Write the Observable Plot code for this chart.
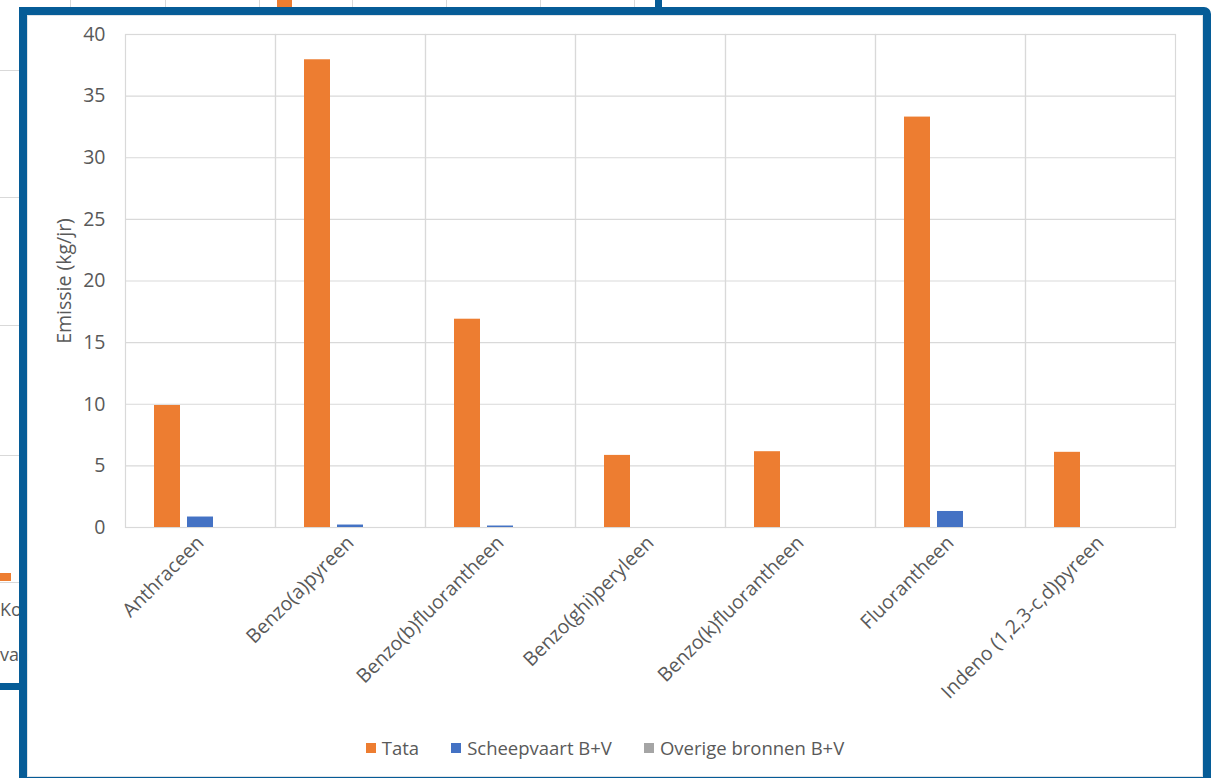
<!DOCTYPE html>
<html>
<head>
<meta charset="utf-8">
<script src="https://cdn.jsdelivr.net/npm/d3@7"></script>
<script src="https://cdn.jsdelivr.net/npm/@observablehq/plot@0.6"></script>
<style>
  html, body { margin: 0; padding: 0; background: #ffffff; width: 1212px; height: 778px; overflow: hidden; position: relative; }
  #chart { position: absolute; left: 0; top: 0; }
  #frame {
    position: absolute; left: 19px; top: 7px; width: 1176px; height: 762px;
    border: 8px solid #065c97; border-top-right-radius: 7px;
    box-shadow: inset 0 0 0 1px #dfe3e8;
    pointer-events: none;
  }
  #legend {
    position: absolute; top: 735px; left: 0; width: 1210px;
    display: flex; justify-content: center; gap: 32px;
    font-family: "Open Sans", sans-serif; font-size: 18.5px; color: #595959;
  }
  #legend .item { display: flex; align-items: center; gap: 6px; }
  #legend .sw { width: 10px; height: 10px; display: inline-block; }
  /* fragments of the neighbouring chart behind the framed one */
  .bg { position: absolute; }
  .vl { width: 1px; height: 7px; top: 0; background: #d9d9d9; }
  .hl { height: 1px; width: 19px; left: 0; background: #d9d9d9; }
  .frag { font-family: "Open Sans", sans-serif; font-size: 18px; color: #595959; }
</style>
</head>
<body>
<div class="bg vl" style="left:70px"></div>
<div class="bg vl" style="left:165px"></div>
<div class="bg vl" style="left:259px"></div>
<div class="bg vl" style="left:352px"></div>
<div class="bg vl" style="left:446px"></div>
<div class="bg vl" style="left:540px"></div>
<div class="bg vl" style="left:634px"></div>
<div class="bg" style="left:277px;top:0;width:15px;height:7px;background:#ED7D31"></div>
<div class="bg" style="left:655px;top:0;width:7px;height:7px;background:#065c97"></div>
<div class="bg hl" style="top:70px"></div>
<div class="bg hl" style="top:197px"></div>
<div class="bg hl" style="top:325px"></div>
<div class="bg hl" style="top:455px"></div>
<div class="bg hl" style="top:582px"></div>
<div class="bg" style="left:0;top:573px;width:11px;height:8px;background:#ED7D31"></div>
<div class="bg frag" style="left:0px;top:597px">Ko</div>
<div class="bg frag" style="left:0px;top:642px">vaa</div>
<div class="bg" style="left:0;top:683px;width:19px;height:7px;background:#065c97"></div>
<div id="chart"></div>
<div id="legend"></div>
<div id="frame"></div>
<script>
const categories = [
  "Anthraceen",
  "Benzo(a)pyreen",
  "Benzo(b)fluorantheen",
  "Benzo(ghi)peryleen",
  "Benzo(k)fluorantheen",
  "Fluorantheen",
  "Indeno (1,2,3-c,d)pyreen"
];
const series = ["Tata", "Scheepvaart B+V", "Overige bronnen B+V"];
const tata = [9.9, 37.95, 16.9, 5.85, 6.15, 33.3, 6.1];
const scheepvaart = [0.85, 0.2, 0.12, 0, 0, 1.3, 0];
const overige = [0, 0, 0, 0, 0, 0, 0];
const yTicks = [0, 5, 10, 15, 20, 25, 30, 35, 40];
const colors = ["#ED7D31", "#4472C4", "#A5A5A5"];

const seriesValues = [tata, scheepvaart, overige];
const data = categories.flatMap((c, i) =>
  series.map((s, j) => ({category: c, serie: s, value: seriesValues[j][i]}))
).filter(d => d.value > 0);

const chart = Plot.plot({
  width: 1212,
  height: 720,
  marginLeft: 123,
  marginRight: 35,
  marginTop: 34,
  marginBottom: 193,
  style: {fontFamily: "'Open Sans', sans-serif", fontSize: "19.5px", color: "#595959", background: "transparent"},
  fx: {domain: categories, padding: 0, label: null, tickRotate: -45, tickSize: 0, tickPadding: 12},
  x: {domain: series, paddingInner: 0.206, paddingOuter: 0.84, axis: null},
  y: {domain: [0, 40], ticks: yTicks, tickSize: 0, tickPadding: 20,
      label: "Emissie (kg/jr)", labelAnchor: "center", labelOffset: 68, labelArrow: "none"},
  color: {domain: series, range: colors},
  marks: [
    Plot.gridY(yTicks, {stroke: "#d9d9d9", strokeOpacity: 1, strokeWidth: 1.2}),
    Plot.frame({stroke: "#d9d9d9", strokeWidth: 1.2}),
    Plot.barY(data, {fx: "category", x: "serie", y: "value", fill: "serie"})
  ]
});
document.getElementById("chart").appendChild(chart);

const legend = d3.select("#legend");
series.forEach((s, j) => {
  const item = legend.append("div").attr("class", "item");
  item.append("span").attr("class", "sw").style("background", colors[j]);
  item.append("span").text(s);
});
</script>
</body>
</html>
